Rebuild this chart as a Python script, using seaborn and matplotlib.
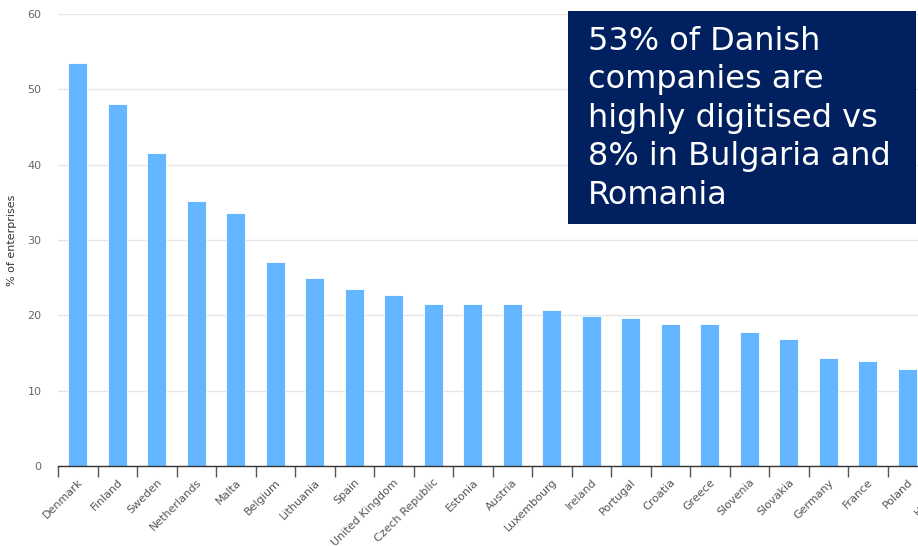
import numpy as np
import pandas as pd
import matplotlib
matplotlib.use('Agg')
import matplotlib.pyplot as plt
import seaborn as sns
from matplotlib.patches import Rectangle

# data (last bar is cut off at the right edge)
countries = ['Denmark', 'Finland', 'Sweden', 'Netherlands', 'Malta', 'Belgium',
             'Lithuania', 'Spain', 'United Kingdom', 'Czech Republic', 'Estonia',
             'Austria', 'Luxembourg', 'Ireland', 'Portugal', 'Croatia', 'Greece',
             'Slovenia', 'Slovakia', 'Germany', 'France', 'Poland', 'Hungary']
share = [53.5, 48.1, 41.5, 35.2, 33.6, 27.1, 24.9, 23.5, 22.7, 21.5, 21.5,
         21.5, 20.7, 19.9, 19.7, 18.9, 18.8, 17.8, 16.9, 14.3, 14.0, 12.9, 12.0]
y_ticks = [0, 10, 20, 30, 40, 50, 60]

df = pd.DataFrame({'country': countries, 'share': share})

sns.set_theme(style='white')
plt.rcParams['font.family'] = ['DejaVu Sans']

fig = plt.figure(figsize=(9.18, 5.46), dpi=100)
W, H = 918, 546
cat_w = 39.5
x0, y0, y1 = 58, 466, 14
ax = fig.add_axes([x0 / W, (H - y0) / H, len(countries) * cat_w / W, (y0 - y1) / H])

sns.barplot(data=df, x='country', y='share', color='#63b6ff', saturation=1,
            width=0.48, edgecolor='white', linewidth=0.6, ax=ax)

ax.set_xlim(-0.5, len(countries) - 0.5)
ax.set_ylim(0, 60)
ax.set_yticks(y_ticks)
ax.yaxis.grid(True, color='#e6e6e6', linewidth=1)
ax.set_axisbelow(True)
for s in ['left', 'right', 'top']:
    ax.spines[s].set_visible(False)
ax.spines['bottom'].set_color('#333333')
ax.spines['bottom'].set_linewidth(1)

ax.tick_params(axis='y', length=0, labelsize=8, labelcolor='#666666', pad=12)
ax.set_ylabel('% of enterprises', fontsize=8, color='#333333', labelpad=7)
ax.set_xlabel('')

# category labels at bar centres, tick marks between categories
ax.set_xticks(np.arange(len(countries)))
ax.set_xticklabels(countries, rotation=45, ha='right', rotation_mode='anchor',
                   fontsize=8, color='#555555')
ax.tick_params(axis='x', which='major', length=0, pad=8)
ax.set_xticks(np.arange(len(countries)) - 0.5, minor=True)
ax.tick_params(axis='x', which='minor', bottom=True, length=8, width=1,
               color='#555555', direction='out')

# call-out box
fig.patches.append(Rectangle((568 / W, (H - 224) / H), 348 / W, 213 / H,
                             transform=fig.transFigure, facecolor='#002060',
                             edgecolor='none', zorder=5))
fig.text(588 / W, (H - 26) / H,
         '53% of Danish\ncompanies are\nhighly digitised vs\n8% in Bulgaria and\nRomania',
         color='white', fontsize=23, va='top', ha='left', linespacing=1.31,
         zorder=6)

fig.savefig('out.png', dpi=100)
